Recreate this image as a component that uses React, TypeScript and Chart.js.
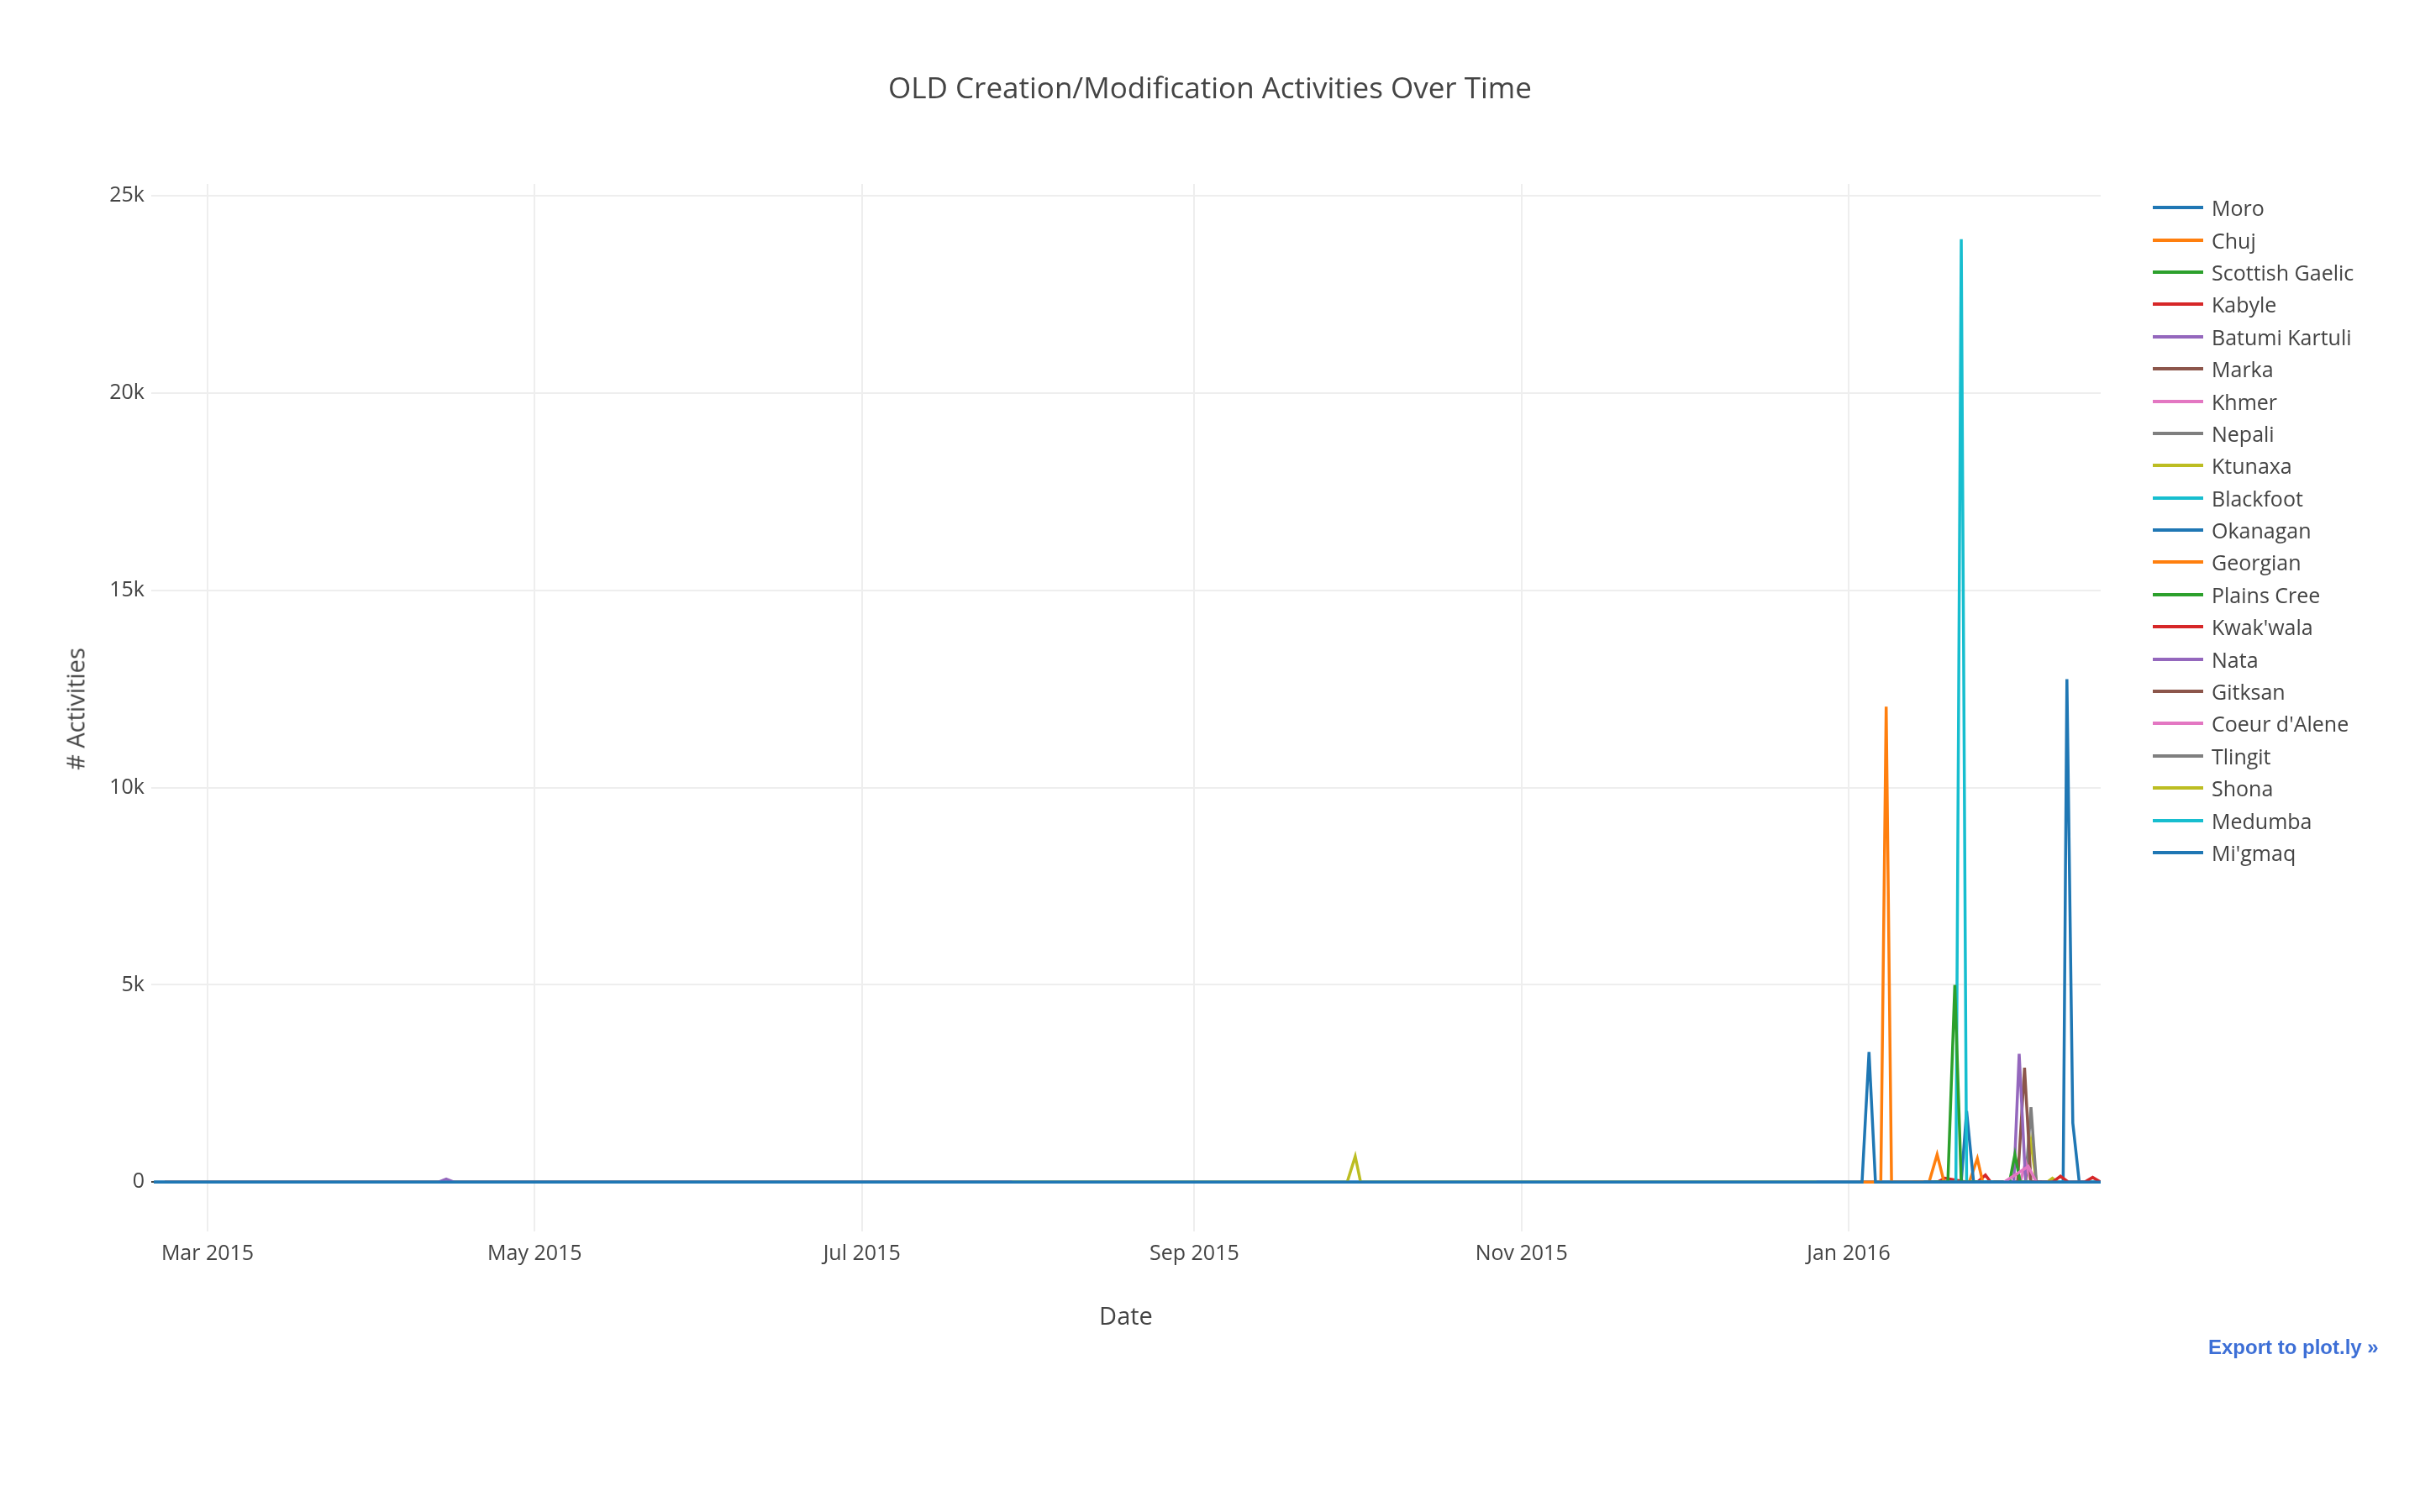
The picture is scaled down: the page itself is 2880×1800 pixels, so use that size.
import { useEffect, useRef } from 'react'
import { Chart, registerables } from 'chart.js'

Chart.register(...registerables);

// x values are days counted from 1 Mar 2015
const tickDays = [0, 61, 122, 184, 245, 306];
const tickLabels = ['Mar 2015', 'May 2015', 'Jul 2015', 'Sep 2015', 'Nov 2015', 'Jan 2016'];
const yTicks = [0, 5000, 10000, 15000, 20000, 25000];

const seriesNames = ['Moro', 'Chuj', 'Scottish Gaelic', 'Kabyle', 'Batumi Kartuli', 'Marka', 'Khmer', 'Nepali', 'Ktunaxa',
  'Blackfoot', 'Okanagan', 'Georgian', 'Plains Cree', "Kwak'wala", 'Nata', 'Gitksan', "Coeur d'Alene", 'Tlingit', 'Shona', 'Medumba', "Mi'gmaq"];
const palette = ['#1f77b4', '#ff7f0e', '#2ca02c', '#d62728', '#9467bd', '#8c564b', '#e377c2', '#7f7f7f', '#bcbd22', '#17becf'];

const seriesDays: number[][] = [
  [-10, 307, 308.5, 309.8, 311, 353],           // Moro
  [308, 312, 313, 314, 320],                    // Chuj
  [322, 324.5, 325.8, 327, 330],                // Scottish Gaelic
  [340, 344, 345.5, 347, 350, 351.5, 353],      // Kabyle
  [-8, 43, 44.5, 46, 150],                      // Batumi Kartuli
  [320, 326, 330],                              // Marka
  [335, 339.5, 341],                            // Khmer
  [300, 320],                                   // Nepali
  [-8, 212.5, 214, 215, 300],                   // Ktunaxa
  [320, 326, 327, 328, 333],                    // Blackfoot
  [320, 327, 328, 329.3, 335],                  // Okanagan
  [318, 321, 322.5, 323.8, 328.5, 330, 331, 335],// Georgian
  [333, 336, 337, 338, 342],                    // Plains Cree
  [320, 322.5, 324, 328, 330, 331.5, 332.5, 334],// Kwak'wala
  [333, 336.8, 337.8, 339, 342],                // Nata
  [333, 337.5, 338.8, 340, 342],                // Gitksan
  [335, 338, 339, 340, 342],                    // Coeur d'Alene
  [336, 339, 340, 341, 343],                    // Tlingit
  [336, 339, 340, 341, 343, 344, 345],          // Shona
  [340, 346, 348, 353],                         // Medumba
  [-10, 346, 346.7, 347.8, 349, 353],           // Mi'gmaq
];
const seriesValues: number[][] = [
  [0, 0, 0, 3300, 0, 0],
  [0, 0, 12050, 0, 0],
  [0, 0, 5000, 0, 0],
  [0, 0, 150, 0, 0, 120, 0],
  [0, 0, 80, 0, 0],
  [0, 0, 0],
  [0, 400, 0],
  [0, 0],
  [0, 0, 650, 0, 0],
  [0, 0, 23900, 0, 0],
  [0, 0, 1800, 0, 0],
  [0, 0, 700, 0, 0, 600, 0, 0],
  [0, 0, 700, 0, 0],
  [0, 0, 100, 0, 0, 180, 0, 0],
  [0, 0, 3250, 0, 0],
  [0, 0, 2900, 0, 0],
  [0, 0, 500, 0, 0],
  [0, 0, 1900, 0, 0],
  [0, 0, 1000, 0, 0, 100, 0],
  [0, 0, 0, 0],
  [0, 0, 12750, 1500, 0, 0],
];

export default function App() {
  const ref = useRef<HTMLCanvasElement>(null);

  useEffect(() => {
    if (!ref.current) return;
    const chart = new Chart(ref.current, {
      type: 'line',
      data: {
        datasets: seriesNames.map((name, i) => ({
          label: name,
          data: seriesDays[i].map((d, j) => ({ x: d, y: seriesValues[i][j] })),
          borderColor: palette[i % 10],
          borderWidth: 3.5,
          pointRadius: 0,
          tension: 0,
        })),
      },
      options: {
        animation: false,
        responsive: false,
        layout: { padding: { left: 0, top: 219, right: 380, bottom: 234 } },
        plugins: { legend: { display: false }, tooltip: { enabled: false } },
        scales: {
          x: {
            type: 'linear',
            min: -10.5,
            max: 353,
            afterBuildTicks: (s) => { s.ticks = tickDays.map(v => ({ value: v })); },
            afterFit: (s) => { s.height = 100; },
            ticks: {
              color: '#444',
              font: { family: 'Open Sans', size: 25 },
              padding: 12,
              maxRotation: 0,
              callback: (v) => tickLabels[tickDays.indexOf(Number(v))] ?? '',
            },
            grid: { color: '#eeeeee', lineWidth: 2, drawTicks: false },
            border: { display: false },
          },
          y: {
            min: -1250,
            max: 25300,
            afterBuildTicks: (s) => { s.ticks = yTicks.map(v => ({ value: v })); },
            afterFit: (s) => { s.width = 180; },
            ticks: {
              color: '#444',
              font: { family: 'Open Sans', size: 25 },
              padding: 8,
              callback: (v) => (Number(v) === 0 ? '0' : Number(v) / 1000 + 'k'),
            },
            grid: {
              color: (c) => (c.tick && c.tick.value === 0 ? '#444444' : '#eeeeee'),
              lineWidth: 2,
              drawTicks: false,
            },
            border: { display: false },
          },
        },
      },
    });
    return () => chart.destroy();
  }, []);

  const font = "'Open Sans', sans-serif";
  return (
    <div style={{ position: 'fixed', left: 0, top: 0, width: 2880, height: 1800, background: '#fff', fontFamily: font, color: '#444' }}>
      <canvas ref={ref} width={2880} height={1800} style={{ width: 2880, height: 1800 }} />
      <div style={{ position: 'absolute', top: 80, left: 0, width: 2880, textAlign: 'center', fontSize: 35 }}>
        OLD Creation/Modification Activities Over Time
      </div>
      <div style={{ position: 'absolute', left: 89, top: 844, transform: 'translate(-50%, -50%) rotate(-90deg)', fontSize: 29, whiteSpace: 'nowrap' }}>
        # Activities
      </div>
      <div style={{ position: 'absolute', left: 1340, top: 1565, transform: 'translate(-50%, -50%)', fontSize: 29 }}>Date</div>
      <div style={{ position: 'absolute', left: 2562, top: 228 }}>
        {seriesNames.map((name, i) => (
          <div key={name} style={{ display: 'flex', alignItems: 'center', height: 38.4, fontSize: 25 }}>
            <span style={{ display: 'inline-block', width: 60, height: 4, background: palette[i % 10], marginRight: 10 }} />
            {name}
          </div>
        ))}
      </div>
      <div style={{ position: 'absolute', left: 2628, top: 1590, fontSize: 24, fontWeight: 'bold', color: '#3d6fd6', fontFamily: 'Arial, sans-serif' }}>
        Export to plot.ly »
      </div>
    </div>
  );
}
